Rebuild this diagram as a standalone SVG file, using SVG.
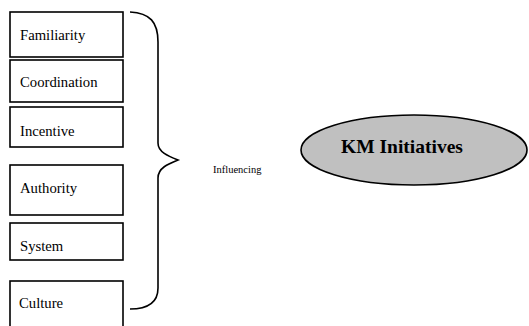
<svg xmlns="http://www.w3.org/2000/svg" width="529" height="326" viewBox="0 0 529 326">
<style>
.box{fill:#fff;stroke:#000;stroke-width:1.6}
.lbl{font-family:"Liberation Serif",serif;font-size:14.7px;fill:#000}
.conn{fill:none;stroke:#000;stroke-width:1.6}
</style>
<rect width="529" height="326" fill="#fff"/>
<g id="familiarity"><rect class="box" x="10" y="12" width="113" height="45"/><text class="lbl" x="20" y="40">Familiarity</text></g>
<g id="coordination"><rect class="box" x="10" y="60" width="113" height="42"/><text class="lbl" x="20" y="87">Coordination</text></g>
<g id="incentive"><rect class="box" x="10" y="107" width="113" height="40"/><text class="lbl" x="20" y="136">Incentive</text></g>
<g id="authority"><rect class="box" x="10" y="165" width="113" height="50"/><text class="lbl" x="20" y="193">Authority</text></g>
<g id="system"><rect class="box" x="10" y="223" width="113" height="37"/><text class="lbl" x="20" y="251">System</text></g>
<g id="culture"><rect class="box" x="10" y="281" width="113" height="50"/><text class="lbl" x="19" y="308">Culture</text></g>
<g id="connectors">
<path class="conn" d="M130,12 C150,13 158,22 158,42 L158,143 C158,152 168,156 178,160 C168,164 158,168 158,178 L158,288 C158,302 148,309 130,309"/>
<text x="213" y="173" font-family="Liberation Serif,serif" font-size="10.5" fill="#000">Influencing</text>
</g>
<g id="km-initiatives"><ellipse cx="414" cy="150" rx="113" ry="35" fill="#c0c0c0" stroke="#000" stroke-width="1.6"/><text x="402" y="153" text-anchor="middle" font-family="Liberation Serif,serif" font-weight="bold" font-size="19.5" fill="#000">KM Initiatives</text></g>
</svg>
